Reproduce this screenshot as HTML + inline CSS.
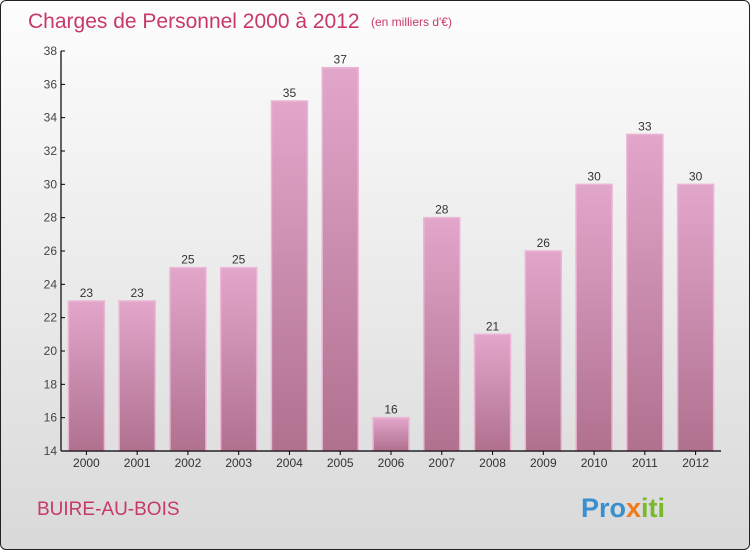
<!DOCTYPE html>
<html><head><meta charset="utf-8"><style>
body{margin:0;}
#wrap{width:748px;height:548px;border:1px solid #222;border-radius:6px;overflow:hidden;background:linear-gradient(#fdfdfd,#d9d9d9);position:relative;font-family:"Liberation Sans",sans-serif;}
svg{position:absolute;left:0;top:0}
</style></head><body>
<div id="wrap">
<svg id="c" width="750" height="550">
<defs><linearGradient id="bg" x1="0" y1="0" x2="0" y2="1"><stop offset="0" stop-color="#e3a6cb"/><stop offset="1" stop-color="#b0718f"/></linearGradient></defs>
<text x="27" y="27" font-size="21" fill="#c8386a">Charges de Personnel 2000 à 2012</text>
<text x="370" y="25" font-size="12" fill="#c8386a">(en milliers d'€)</text>
<text x="36" y="514" font-size="19" fill="#c8386a">BUIRE-AU-BOIS</text>
<text x="580" y="516" font-size="27" font-weight="bold" fill="#3a8fd0">Pro<tspan fill="#f07a1a">x</tspan><tspan fill="#79b82a">iti</tspan></text>
</svg>
</div>
<script>
const categories=["2000","2001","2002","2003","2004","2005","2006","2007","2008","2009","2010","2011","2012"];
const values=[23,23,25,25,35,37,16,28,21,26,30,33,30];
const yTicks=[14,16,18,20,22,24,26,28,30,32,34,36,38];
const svg=document.getElementById('c');const NS="http://www.w3.org/2000/svg";
const x0=60,x1=720,yTop=50,yBot=450,yMin=14,yMax=38;
const step=(x1-x0)/categories.length;
const y=v=>yBot-(v-yMin)/(yMax-yMin)*(yBot-yTop);
function mk(t,a){const e=document.createElementNS(NS,t);for(const k in a)e.setAttribute(k,a[k]);svg.appendChild(e);return e;}
categories.forEach((c,i)=>{
 const cx=x0+step*(i+0.5);
 const r=mk('rect',{x:cx-18,y:y(values[i]),width:36,height:yBot-y(values[i]),fill:'url(#bg)',stroke:'#eab6d4','stroke-width':1.5});
 
 
 const t=mk('text',{x:cx,y:y(values[i])-4,'text-anchor':'middle','font-size':12,fill:'#333'});t.textContent=values[i];
 
 
 const l=mk('text',{x:cx,y:466,'text-anchor':'middle','font-size':12,fill:'#333'});l.textContent=c;
 
 
 const tk=mk('line',{x1:cx,x2:cx,y1:yBot,y2:yBot+4,stroke:'#000'});
 
 
});
yTicks.forEach(v=>{
 const t=mk('text',{x:x0-4,y:y(v)+4,'text-anchor':'end','font-size':12,fill:'#444'});t.textContent=v;
 
 
 const tk=mk('line',{x1:x0,x2:x0+4,y1:y(v),y2:y(v),stroke:'#000'});
 
 
});
const ya=mk('line',{x1:x0,x2:x0,y1:yTop,y2:yBot,stroke:'#000','stroke-width':1.2});


const xa=mk('line',{x1:x0,x2:x1,y1:yBot,y2:yBot,stroke:'#000','stroke-width':1.2});


</script>
</body></html>
